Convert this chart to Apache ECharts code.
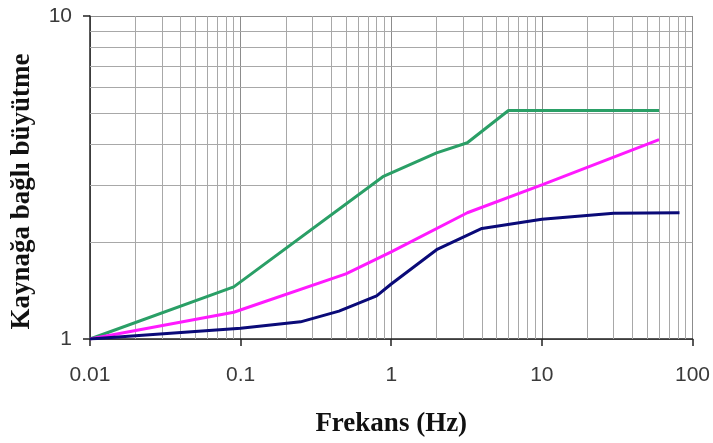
<!DOCTYPE html>
<html>
<head>
<meta charset="utf-8">
<script src="https://cdn.jsdelivr.net/npm/echarts@6/dist/echarts.min.js"></script>
<style>html,body{margin:0;padding:0;background:#fff;}#c{width:713px;height:443px;}</style>
</head>
<body>
<div id="c"></div>
<script>
// Data
const greenX = [0.01, 0.09, 0.88, 2, 3.2, 6, 60];
const greenY = [1, 1.45, 3.18, 3.77, 4.05, 5.1, 5.1];
const pinkX = [0.01, 0.09, 0.5, 1, 3.2, 10, 60];
const pinkY = [1, 1.21, 1.59, 1.86, 2.46, 3.0, 4.14];
const navyX = [0.01, 0.1, 0.25, 0.45, 0.8, 1, 2, 4, 10, 30, 82];
const navyY = [1, 1.08, 1.13, 1.22, 1.36, 1.48, 1.89, 2.2, 2.35, 2.45, 2.46];
const xTickLabels = ['0.01', '0.1', '1', '10', '100'];
const yTickLabels = ['1', '10'];
const xDecades = [0.01, 0.1, 1, 10];
const yDecades = [1];
const minorSteps = [2, 3, 4, 5, 6, 7, 8, 9];

const pairs = (xs, ys) => xs.map((x, i) => [x, ys[i]]);
const minorX = [];
xDecades.forEach(d => minorSteps.forEach(k => minorX.push(+(k * d).toPrecision(3))));
const minorY = [];
yDecades.forEach(d => minorSteps.forEach(k => minorY.push(+(k * d).toPrecision(3))));

const chart = echarts.init(document.getElementById('c'), null, {renderer: 'canvas'});
const lineStyleGrid = {color: '#a8a8a8', width: 1, type: 'solid'};
chart.setOption({
  animation: false,
  backgroundColor: '#ffffff',
  grid: {left: 90, right: 19, top: 16, bottom: 103, containLabel: false},
  xAxis: {
    type: 'log', logBase: 10, min: 0.01, max: 100,
    name: 'Frekans (Hz)', nameLocation: 'middle', nameGap: 72,
    nameTextStyle: {fontFamily: 'Liberation Serif', fontWeight: 'bold', fontSize: 27, color: '#111'},
    axisLine: {show: true, lineStyle: {color: '#222', width: 1.5}},
    axisTick: {show: true, length: 7, inside: false, lineStyle: {color: '#222', width: 1.5}},
    axisLabel: {
      margin: 26, fontFamily: 'Liberation Sans', fontSize: 21, color: '#3a3a3a',
      formatter: v => { const i = Math.round(Math.log10(v) + 2); return xTickLabels[i] ?? ''; }
    },
    splitLine: {show: true, lineStyle: {color: '#8c8c8c', width: 1}},
    minorTick: {show: false}, minorSplitLine: {show: false}
  },
  yAxis: {
    type: 'log', logBase: 10, min: 1, max: 10,
    name: 'Kaynağa bağlı büyütme', nameLocation: 'middle', nameGap: 54,
    nameTextStyle: {fontFamily: 'Liberation Serif', fontWeight: 'bold', fontSize: 27, color: '#111', padding: [0, 28, 0, 0]},
    axisLine: {show: true, lineStyle: {color: '#222', width: 1.5}},
    axisTick: {show: true, length: 7, inside: false, lineStyle: {color: '#222', width: 1.5}},
    axisLabel: {
      margin: 18, fontFamily: 'Liberation Sans', fontSize: 21, color: '#3a3a3a',
      formatter: v => { const i = Math.round(Math.log10(v)); return yTickLabels[i] ?? ''; }
    },
    splitLine: {show: true, lineStyle: {color: '#8c8c8c', width: 1}},
    minorTick: {show: false}, minorSplitLine: {show: false}
  },
  series: [
    {
      type: 'line', data: [], z: 1, silent: true,
      markLine: {
        silent: true, symbol: ['none', 'none'], animation: false,
        label: {show: false}, lineStyle: lineStyleGrid, emphasis: {disabled: true},
        data: minorX.map(v => ({xAxis: v})).concat(minorY.map(v => ({yAxis: v})))
      }
    },
    {type: 'line', data: pairs(greenX, greenY), symbol: 'none', z: 5,
     lineStyle: {color: '#2a9f66', width: 3}, itemStyle: {color: '#2a9f66'}},
    {type: 'line', data: pairs(pinkX, pinkY), symbol: 'none', z: 5,
     lineStyle: {color: '#ff1aff', width: 3}, itemStyle: {color: '#ff1aff'}},
    {type: 'line', data: pairs(navyX, navyY), symbol: 'none', z: 5,
     lineStyle: {color: '#0a0a78', width: 3}, itemStyle: {color: '#0a0a78'}}
  ]
});
</script>
</body>
</html>
